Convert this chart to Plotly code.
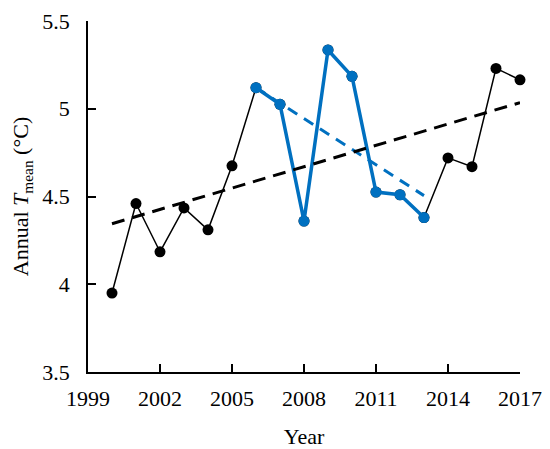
import plotly.graph_objects as go

# annual mean temperature
years = list(range(2000, 2018))
tmean = [3.95, 4.46, 4.185, 4.435, 4.31, 4.675, 5.12, 5.025, 4.36,
         5.335, 5.185, 4.525, 4.51, 4.38, 4.72, 4.67, 5.23, 5.165]

# highlighted period
hl_years = years[6:14]
hl_tmean = tmean[6:14]

# trend lines (end points)
trend_years = [2000, 2017]
trend_vals = [4.345, 5.035]
hl_trend_years = [2006, 2013]
hl_trend_vals = [5.12, 4.505]

x_ticks = [1999, 2002, 2005, 2008, 2011, 2014, 2017]
y_ticks = [3.5, 4, 4.5, 5, 5.5]

BLUE = "#0070C0"
FONT = "Liberation Serif"

fig = go.Figure()

fig.add_trace(go.Scatter(
    x=years, y=tmean, mode="lines+markers",
    line=dict(color="black", width=1.5),
    marker=dict(color="black", size=11),
    cliponaxis=False,
))
fig.add_trace(go.Scatter(
    x=hl_years, y=hl_tmean, mode="lines+markers",
    line=dict(color=BLUE, width=3.5),
    marker=dict(color=BLUE, size=11),
    cliponaxis=False,
))
fig.add_trace(go.Scatter(
    x=hl_trend_years, y=hl_trend_vals, mode="lines",
    line=dict(color=BLUE, width=3, dash="11px,8px"),
))
fig.add_trace(go.Scatter(
    x=trend_years, y=trend_vals, mode="lines",
    line=dict(color="black", width=3, dash="13px,8px"),
))

# the page body adds 8px around the figure, so the figure is a bit smaller
fig.update_layout(
    width=542, height=441,
    margin=dict(l=80, r=30, t=13, b=77),
    paper_bgcolor="white", plot_bgcolor="white",
    showlegend=False,
    font=dict(family=FONT, size=22, color="black"),
)
fig.update_xaxes(
    range=[1999, 2017], tickvals=x_ticks,
    showgrid=False, zeroline=False, automargin=False,
    showline=True, linecolor="black", linewidth=1.5,
    ticks="inside", ticklen=8, tickwidth=1.5, tickcolor="black",
    ticklabelstandoff=6, ticklabeloverflow="allow",
    title=dict(text="Year", standoff=18, font=dict(size=22)),
)
fig.update_yaxes(
    range=[3.5, 5.5], tickvals=y_ticks,
    showgrid=False, zeroline=False, automargin=False,
    showline=True, linecolor="black", linewidth=1.5,
    ticks="inside", ticklen=8, tickwidth=1.5, tickcolor="black",
    ticklabelstandoff=12, ticklabeloverflow="allow",
    title=dict(text="Annual <i>T</i><sub>mean</sub> (°C)", standoff=22,
               font=dict(size=22)),
)

fig.write_html("out.html")
